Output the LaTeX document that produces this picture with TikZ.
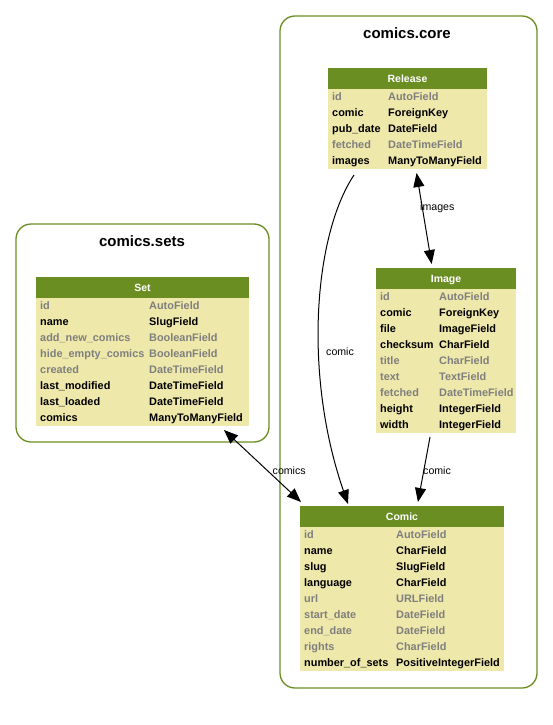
\documentclass[tikz,border=0pt]{standalone}
\usepackage{fontspec}
\setmainfont{Liberation Sans}
\usetikzlibrary{arrows.meta}

\definecolor{hdrgreen}{HTML}{6B8E23}
\definecolor{bodyyellow}{HTML}{EEE8AA}
\definecolor{fldgray}{HTML}{7F7F7F}

\tikzset{
  cluster/.style={draw=hdrgreen, line width=1.3pt, rounded corners=15pt, inner sep=0pt},
  clustertitle/.style={anchor=base, inner sep=0pt, font=\fontsize{15}{15}\selectfont\bfseries},
  tablebox/.style={fill=bodyyellow, draw=none, inner sep=0pt, outer sep=4pt},
  tablehead/.style={fill=hdrgreen, draw=none, inner sep=0pt},
  headtext/.style={anchor=base, inner sep=0pt, text=white, font=\fontsize{10.5}{10.5}\selectfont\bfseries},
  fld/.style={anchor=base west, inner sep=0pt, font=\fontsize{10.9}{10.9}\selectfont\bfseries},
  rel/.style={line width=1pt, -{Triangle[length=14pt,width=11pt]}},
  relboth/.style={line width=1pt, {Triangle[length=14pt,width=11pt]}-{Triangle[length=14pt,width=11pt]}},
  edgelabel/.style={anchor=base west, inner sep=0pt, font=\fontsize{10.6}{10.6}\selectfont}
}

% #1 name, #2 left, #3 top, #4 width, #5 number of fields,
% #6 model name, #7 offset of the type column, #8 field/type/colour list
\newcommand\dbtable[8]{%
  \node[tablebox, minimum width=#4pt, minimum height={21pt+16pt*#5}] (#1)
    at ({#2+#4/2},{#3+(21+16*#5)/2}) {};
  \node[tablehead, minimum width=#4pt, minimum height=21pt] (#1-head)
    at ({#2+#4/2},{#3+10.5}) {};
  \node[headtext] (#1-title) at ({#2+#4/2},{#3+14}) {#6};
  \foreach \fname/\ftype/\fcol [count=\i from 0] in {#8}{
    \node[fld, text=\fcol] (#1-f\i) at ({#2+4},{#3+29+16*\i+3.8}) {\fname};
    \node[fld, text=\fcol] (#1-t\i) at ({#2+#7},{#3+29+16*\i+3.8}) {\ftype};
  }%
}

\begin{document}
\begin{tikzpicture}[x=1pt,y=-1pt]
  \useasboundingbox[fill=white] (0,0) rectangle (553,725);

  % app clusters
  \node[cluster, minimum width=257pt, minimum height=672pt] (core) at (408.5,352) {};
  \node[clustertitle] (core-title) at (407,38) {comics.core};
  \node[cluster, minimum width=253pt, minimum height=218pt] (sets) at (142.5,333) {};
  \node[clustertitle] (sets-title) at (142,246) {comics.sets};

  % models
  \dbtable{release}{328}{68}{159}{5}{Release}{60}{%
    id/AutoField/fldgray, comic/ForeignKey/black, pub\_date/DateField/black,
    fetched/DateTimeField/fldgray, images/ManyToManyField/black}

  \dbtable{image}{376}{268}{140}{9}{Image}{63}{%
    id/AutoField/fldgray, comic/ForeignKey/black, file/ImageField/black,
    checksum/CharField/black, title/CharField/fldgray, text/TextField/fldgray,
    fetched/DateTimeField/fldgray, height/IntegerField/black, width/IntegerField/black}

  \dbtable{comic}{300}{506}{204}{9}{Comic}{96}{%
    id/AutoField/fldgray, name/CharField/black, slug/SlugField/black,
    language/CharField/black, url/URLField/fldgray, start\_date/DateField/fldgray,
    end\_date/DateField/fldgray, rights/CharField/fldgray,
    number\_of\_sets/PositiveIntegerField/black}

  \dbtable{set}{36}{277}{213}{8}{Set}{113}{%
    id/AutoField/fldgray, name/SlugField/black, add\_new\_comics/BooleanField/fldgray,
    hide\_empty\_comics/BooleanField/fldgray, created/DateTimeField/fldgray,
    last\_modified/DateTimeField/black, last\_loaded/DateTimeField/black,
    comics/ManyToManyField/black}

  % relations
  \draw[rel] ([xshift=-53.5pt,yshift=-2pt]release.south)
    .. controls +(-40,60) and +(-45,-130) .. ([xshift=-54pt,yshift=-2pt]comic.north);
  \draw[relboth] (release) -- (image);
  \draw[rel] (image) -- (comic);
  \draw[relboth] ([xshift=81.5pt]set.south) -- ([xshift=-101pt]comic.north);

  % relation labels
  \node[edgelabel] (lbl-release-comic) at (326,355) {comic};
  \node[edgelabel] (lbl-images) at (420,210) {images};
  \node[edgelabel] (lbl-image-comic) at (423,474) {comic};
  \node[edgelabel] (lbl-comics) at (272.5,474) {comics};
\end{tikzpicture}
\end{document}
